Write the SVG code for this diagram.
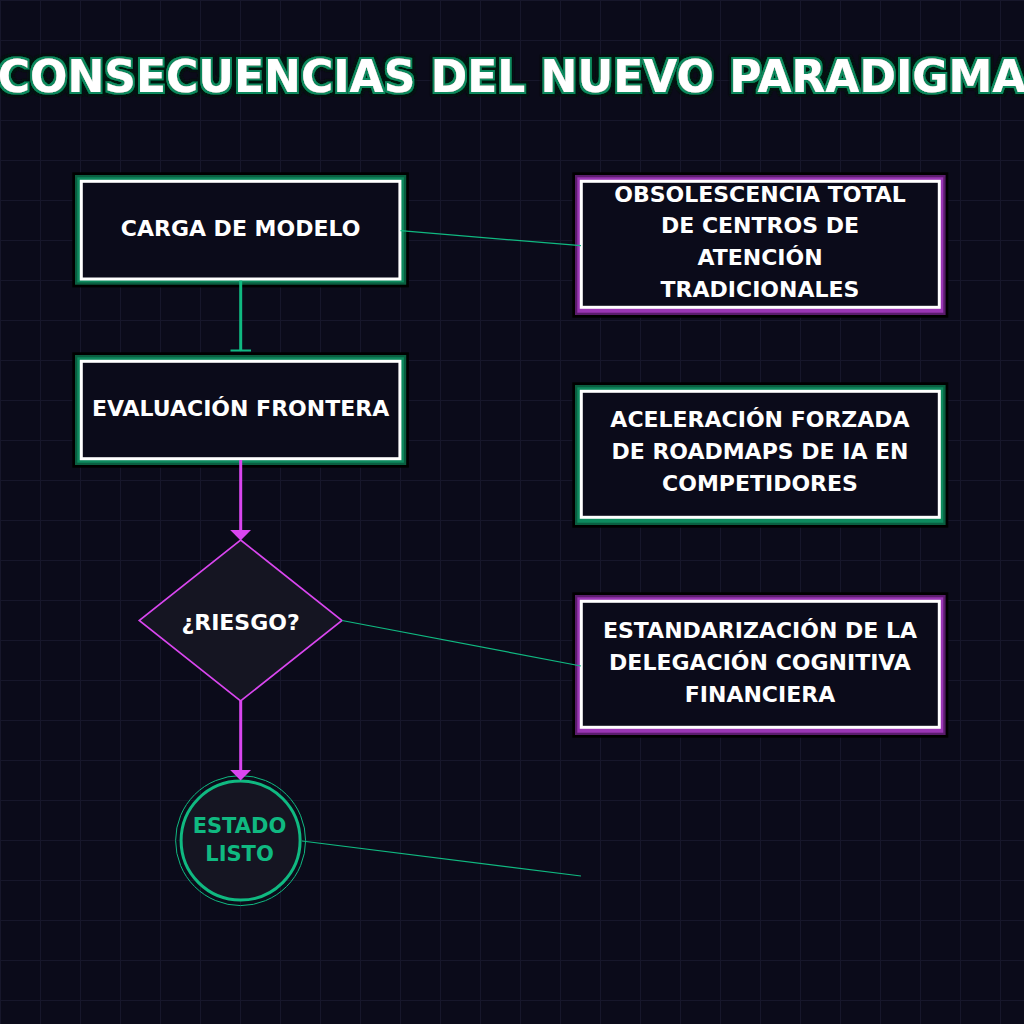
<svg xmlns="http://www.w3.org/2000/svg" width="1024" height="1024" viewBox="0 0 1024 1024">
<defs>
<pattern id="grid" width="40" height="40" patternUnits="userSpaceOnUse">
<path d="M0 0.5H40M0.5 0V40" fill="none" stroke="#17172b" stroke-width="1"/>
</pattern>
<filter id="tglow" x="-3%" y="-40%" width="106%" height="180%">
<feMorphology in="SourceAlpha" operator="dilate" radius="3.5" result="d1"/>
<feGaussianBlur in="d1" stdDeviation="0.8" result="b1"/>
<feFlood flood-color="#02140c"/>
<feComposite in2="b1" operator="in" result="dark"/>
<feMorphology in="SourceAlpha" operator="dilate" radius="2" result="d2"/>
<feFlood flood-color="#0e8a5e"/>
<feComposite in2="d2" operator="in" result="green"/>
<feMerge><feMergeNode in="dark"/><feMergeNode in="green"/><feMergeNode in="SourceGraphic"/></feMerge>
</filter>
</defs>
<style>
.bg{fill:#0b0b1a}
.lbl{font-family:"DejaVu Sans",sans-serif;font-weight:bold;font-size:22px;fill:#ffffff;text-anchor:middle}
.g0{fill:#000}
.g1{fill:#0a5e40}
.g2{fill:#0e8a5e}
.p1{fill:#5a1d6c}
.p2{fill:#9a36b4}
.box{fill:#0b0b1a;stroke:#ffffff;stroke-width:3}
.thin{stroke:#10b981;stroke-width:1.2;fill:none}
.flow{stroke-width:3;fill:none}
</style>
<rect width="1024" height="1024" class="bg"/>
<rect width="1024" height="1024" fill="url(#grid)"/>

<text x="512" y="92" font-family="DejaVu Sans, sans-serif" font-weight="bold" font-size="44" fill="#ffffff" text-anchor="middle" filter="url(#tglow)">CONSECUENCIAS DEL NUEVO PARADIGMA</text>

<g id="n-carga">
<rect x="72.3" y="172.3" width="336.6" height="115.1" class="g0"/>
<rect x="75" y="175" width="331.2" height="109.7" class="g1"/>
<rect x="77.3" y="177.3" width="326.6" height="105.1" class="g2"/>
<rect x="81.3" y="181.3" width="318.6" height="97.7" class="box"/>
<text x="240.6" y="236" class="lbl">CARGA DE MODELO</text>
</g>

<g id="n-eval">
<rect x="72.3" y="352.3" width="336.6" height="115.4" class="g0"/>
<rect x="75" y="355" width="331.2" height="110" class="g1"/>
<rect x="77.3" y="357.3" width="326.6" height="105.4" class="g2"/>
<rect x="81.3" y="361.3" width="318.6" height="97.4" class="box"/>
<text x="240.6" y="416" class="lbl">EVALUACIÓN FRONTERA</text>
</g>

<g id="n-riesgo">
<path d="M240.6 540L342 620.5L240.6 701L139.2 620.5Z" fill="#151522" stroke="#d946ef" stroke-width="1.6"/>
<text x="240.6" y="630" class="lbl">¿RIESGO?</text>
</g>

<g id="n-estado">
<circle cx="240.6" cy="840.6" r="65" fill="none" stroke="#10b981" stroke-width="1"/>
<circle cx="240.6" cy="840.6" r="59.5" fill="#151522" stroke="#10b981" stroke-width="3"/>
<text x="239.5" y="833" class="lbl" style="fill:#10b981;font-size:21px">ESTADO</text>
<text x="239.5" y="860.5" class="lbl" style="fill:#10b981;font-size:21px">LISTO</text>
</g>

<g id="n-obsolescencia">
<rect x="572.3" y="172.3" width="376" height="145.4" class="g0"/>
<rect x="575" y="175" width="370.6" height="140" class="p1"/>
<rect x="577.3" y="177.3" width="366" height="135.4" class="p2"/>
<rect x="581.3" y="181.3" width="358" height="126" class="box"/>
<text class="lbl"><tspan x="760" y="201.7">OBSOLESCENCIA TOTAL</tspan><tspan x="760" y="233.4">DE CENTROS DE</tspan><tspan x="760" y="265.2">ATENCIÓN</tspan><tspan x="760" y="297">TRADICIONALES</tspan></text>
</g>

<g id="n-aceleracion">
<rect x="572.3" y="382.3" width="376" height="145.4" class="g0"/>
<rect x="575" y="385" width="370.6" height="140" class="g1"/>
<rect x="577.3" y="387.3" width="366" height="135.4" class="g2"/>
<rect x="581.3" y="391.3" width="358" height="126" class="box"/>
<text class="lbl"><tspan x="760" y="427.3">ACELERACIÓN FORZADA</tspan><tspan x="760" y="459">DE ROADMAPS DE IA EN</tspan><tspan x="760" y="490.7">COMPETIDORES</tspan></text>
</g>

<g id="n-estandarizacion">
<rect x="572.3" y="592.3" width="376" height="145.4" class="g0"/>
<rect x="575" y="595" width="370.6" height="140" class="p1"/>
<rect x="577.3" y="597.3" width="366" height="135.4" class="p2"/>
<rect x="581.3" y="601.3" width="358" height="126" class="box"/>
<text class="lbl"><tspan x="760" y="638.3">ESTANDARIZACIÓN DE LA</tspan><tspan x="760" y="670">DELEGACIÓN COGNITIVA</tspan><tspan x="760" y="701.7">FINANCIERA</tspan></text>
</g>

<g id="connectors">
<line x1="400.5" y1="230.7" x2="581" y2="245.7" class="thin"/>
<line x1="342" y1="620.5" x2="581" y2="666" class="thin"/>
<line x1="302" y1="841" x2="581" y2="876" class="thin"/>
<line x1="240.7" y1="280.5" x2="240.7" y2="350.5" class="flow" stroke="#10b981"/>
<rect x="230.5" y="349.5" width="20.5" height="2" fill="#10b981"/>
<line x1="240.7" y1="460" x2="240.7" y2="531" class="flow" stroke="#d946ef"/>
<path d="M230.2 530H251L240.6 540.5Z" fill="#d946ef"/>
<line x1="240.7" y1="701" x2="240.7" y2="771" class="flow" stroke="#d946ef"/>
<path d="M230.2 770H251L240.6 780.5Z" fill="#d946ef"/>
</g>
</svg>
